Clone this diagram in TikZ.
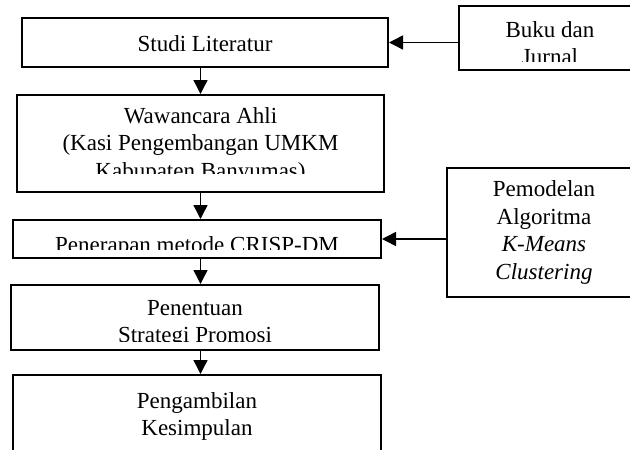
\documentclass[tikz,border=0pt]{standalone}
\usepackage{fontspec}
\setmainfont{Liberation Serif}
\usetikzlibrary{arrows.meta,calc}
\begin{document}
\begin{tikzpicture}[x=1pt,y=-1pt,
  box/.style={draw=black,line width=2pt,rectangle,inner sep=0pt,fill=none},
  txt/.style={anchor=base,inner sep=0pt,font=\fontsize{23}{27.5}\selectfont},
  conn/.style={draw=black,line width=1.5pt,-{Triangle[length=14pt,width=14pt]}}]
\useasboundingbox (0,0) rectangle (630,450);
\fill[white] (0,0) rectangle (630,450);
% boxes
\node[box,minimum width=366pt,minimum height=49pt] (studi) at (205,42.5) {};
\node[box,minimum width=182pt,minimum height=64pt] (buku) at (550,38) {};
\node[box,minimum width=367pt,minimum height=97pt] (wawa) at (200.5,143.5) {};
\node[box,minimum width=368pt,minimum height=38pt] (peneran) at (197,239) {};
\node[box,minimum width=194pt,minimum height=129pt] (model) at (544,232.5) {};
\node[box,minimum width=368pt,minimum height=65pt] (tentu) at (195,317.5) {};
\node[box,minimum width=368pt,minimum height=95pt] (ambil) at (197,422.5) {};
% texts
\node[txt] (tstudi) at (205,51) {Studi Literatur};
\begin{scope}
\clip (459,6) rectangle (641,61.5);
\node[txt] (tbuku1) at (550,37) {Buku dan};
\node[txt] (tbuku2) at (550,64.5) {Jurnal};
\end{scope}
\begin{scope}
\clip (17,95) rectangle (384,173.5);
\node[txt] (twawa1) at (200.5,123) {Wawancara Ahli};
\node[txt] (twawa2) at (200.5,150.5) {(Kasi Pengembangan UMKM};
\node[txt] (twawa3) at (200.5,178) {Kabupaten Banyumas)};
\end{scope}
\begin{scope}
\clip (13,220) rectangle (381,249);
\node[txt] (tpeneran) at (197,252) {Penerapan metode CRISP-DM};
\end{scope}
\node[txt] (tmodel1) at (544,196.5) {Pemodelan};
\node[txt] (tmodel2) at (544,224) {Algoritma};
\node[txt] (tmodel3) at (544,251.5) {\itshape K-Means};
\node[txt] (tmodel4) at (544,279) {\itshape Clustering};
\begin{scope}
\clip (11,285) rectangle (379,341);
\node[txt] (ttentu1) at (195,315) {Penentuan};
\node[txt] (ttentu2) at (195,342.5) {Strategi Promosi};
\end{scope}
\node[txt] (tambil1) at (197,408) {Pengambilan};
\node[txt] (tambil2) at (197,435.5) {Kesimpulan};
% connectors
\draw[conn] (buku.west |- studi.east) -- (studi.east);
\draw[conn] (model.west |- peneran.east) -- (peneran.east);
\draw[conn] (studi.south -| wawa.north) -- (wawa.north);
\draw[conn] (wawa.south) -- (wawa.south |- peneran.north);
\draw[conn] (peneran.south -| wawa.south) -- (tentu.north -| wawa.south);
\draw[conn] (tentu.south -| wawa.south) -- (ambil.north -| wawa.south);
\end{tikzpicture}
\end{document}
